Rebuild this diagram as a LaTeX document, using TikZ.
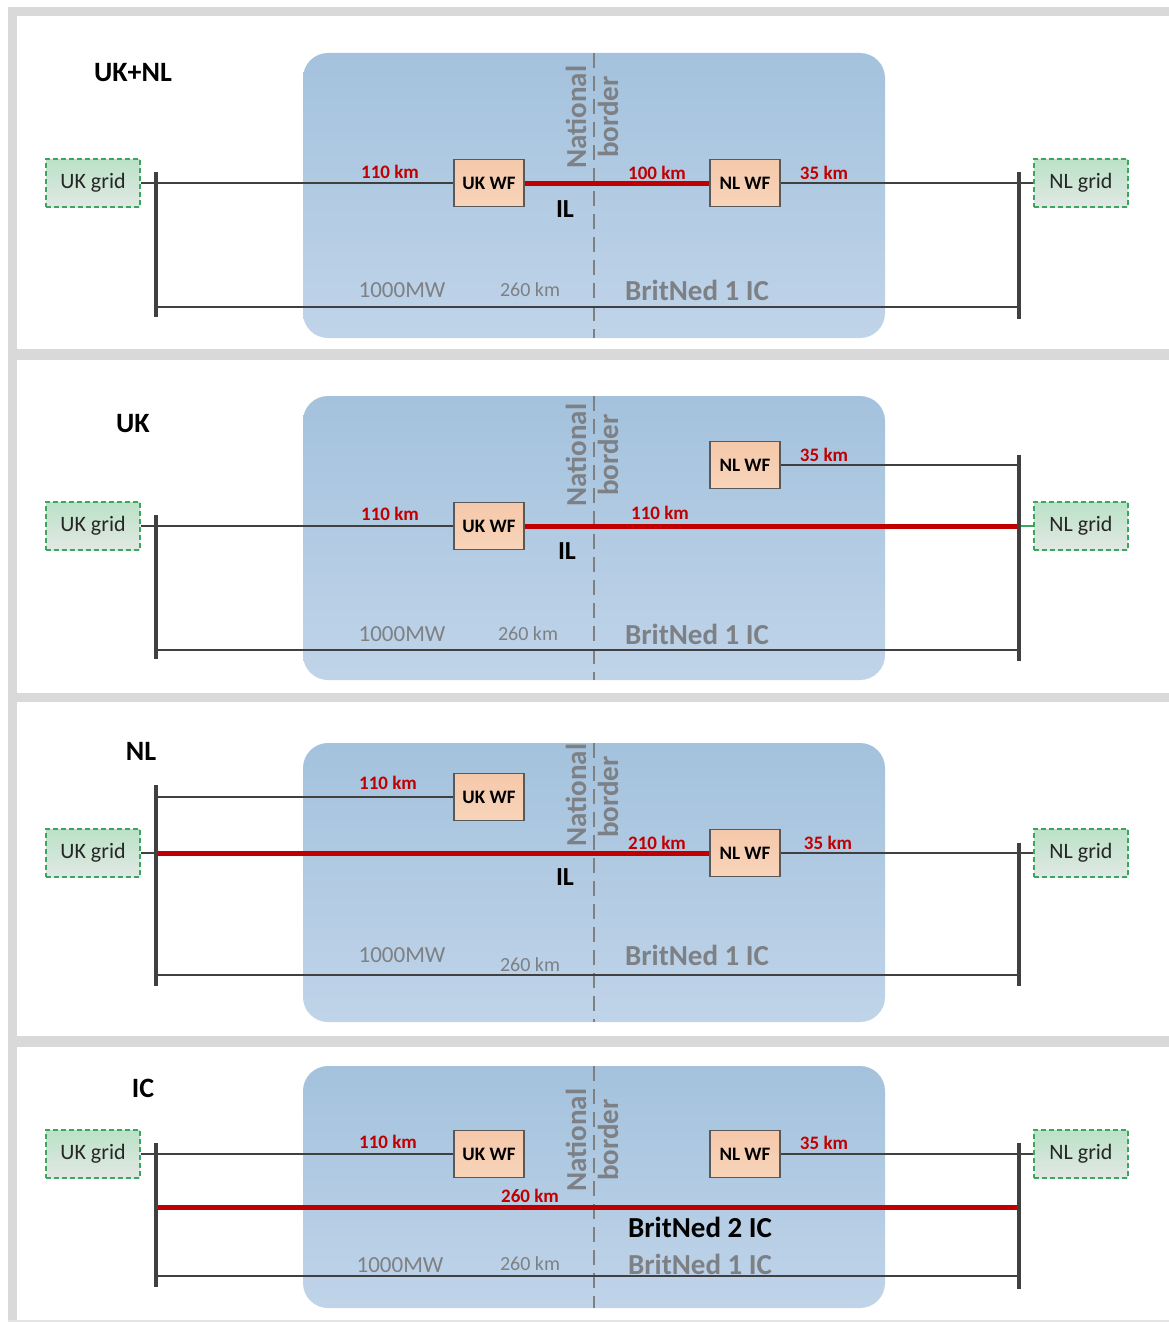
\documentclass[tikz,border=0pt]{standalone}
\usepackage{fontspec}
\setmainfont{Carlito}
\usetikzlibrary{calc}
\definecolor{framegray}{RGB}{217,217,217}
\definecolor{bluetop}{RGB}{164,194,221}
\definecolor{bluebot}{RGB}{192,212,233}
\definecolor{linegray}{RGB}{64,64,64}
\definecolor{ilred}{RGB}{192,0,0}
\definecolor{bordergray}{RGB}{128,128,128}
\definecolor{txtgray}{RGB}{125,128,132}
\definecolor{wfborder}{RGB}{89,89,89}
\definecolor{wftop}{RGB}{245,200,170}
\definecolor{wfbot}{RGB}{248,212,186}
\definecolor{gridtop}{RGB}{186,226,198}
\definecolor{gridbot}{RGB}{226,232,228}
\definecolor{griddash}{RGB}{60,165,95}
\tikzset{
  gridbox/.style={draw=griddash, line width=1.3pt, dash pattern=on 5pt off 3pt,
    top color=gridtop, bottom color=gridbot, minimum width=94pt, minimum height=48pt,
    inner sep=0pt, font=\fontsize{22}{24}\selectfont, text=black!85},
  wfbox/.style={draw=wfborder, line width=1.4pt, top color=wftop, bottom color=wfbot,
    minimum width=70pt, minimum height=47pt, inner sep=0pt,
    font=\bfseries\fontsize{19}{21}\selectfont},
  bus/.style={draw=linegray, line width=3.5pt},
  cable/.style={draw=linegray, line width=2.4pt},
  ilcable/.style={draw=ilred, line width=5pt},
  greenlink/.style={draw=griddash, line width=2pt},
  kmlabel/.style={text=ilred, font=\bfseries\fontsize{19}{21}\selectfont},
  titlelabel/.style={font=\bfseries\fontsize{28}{30}\selectfont},
  illabel/.style={font=\bfseries\fontsize{26}{28}\selectfont},
  mwlabel/.style={text=txtgray, font=\fontsize{23}{25}\selectfont},
  lenlabel/.style={text=txtgray, font=\fontsize{20}{22}\selectfont},
  iclabel/.style={text=txtgray, font=\bfseries\fontsize{29}{31}\selectfont},
  ictwolabel/.style={text=black, font=\bfseries\fontsize{29}{31}\selectfont},
  natlabel/.style={text=txtgray, rotate=90, font=\bfseries\fontsize{29}{31}\selectfont},
  nborder/.style={draw=bordergray, line width=2.2pt, dash pattern=on 15pt off 8pt},
  zone/.style={top color=bluetop, bottom color=bluebot, rounded corners=25pt},
}
\begin{document}
\begin{tikzpicture}[x=1pt,y=-1pt]
\useasboundingbox (0,0) rectangle (1169,1322);
\fill[white] (0,0) rectangle (1169,1322);
% frame
\fill[framegray] (8,7) rectangle (1169,16);
\fill[framegray] (8,7) rectangle (17,1322);
\fill[framegray] (8,349) rectangle (1169,360);
\fill[framegray] (8,693) rectangle (1169,702);
\fill[framegray] (8,1036) rectangle (1169,1047);
\fill[framegray!70] (8,1320) rectangle (1169,1322);

% ================= Panel 1: UK+NL =================
\shade[zone] (303,53) rectangle (885,338);
\coordinate (nb1t) at (594,53); \coordinate (nb1b) at (594,338);
\draw[nborder] (nb1t) -- (nb1b);
\node[natlabel] (nat1) at (576,117) {National};
\node[natlabel] (bor1) at (608,117) {border};
\node[titlelabel] (t1) at (133,73) {UK+NL};
\node[gridbox] (ukg1) at (93,183) {UK grid};
\node[gridbox] (nlg1) at (1081,183) {NL grid};
\node[wfbox] (ukwf1) at (489,183) {UK WF};
\node[wfbox] (nlwf1) at (745,183) {NL WF};
\coordinate (lb1t) at (156,172); \coordinate (lb1b) at (156,317);
\coordinate (rb1t) at (1019,172); \coordinate (rb1b) at (1019,319);
\coordinate (bl1a) at (156,307); \coordinate (bl1b) at (1019,307);
\draw[cable] (ukg1.east) -- (ukg1.east -| lb1t);
\draw[cable] (ukg1.east -| lb1t) -- (ukwf1.west);
\draw[ilcable] (ukwf1.east) -- (nlwf1.west);
\draw[cable] (nlwf1.east) -- (nlwf1.east -| rb1t);
\draw[cable] (nlg1.west) -- (nlg1.west -| rb1t);
\draw[cable] (bl1a) -- (bl1b);
\draw[bus] (lb1t) -- (lb1b);
\draw[bus] (rb1t) -- (rb1b);
\node[kmlabel] (k1a) at (390,172) {110 km};
\node[kmlabel] (k1b) at (657,173) {100 km};
\node[kmlabel] (k1c) at (824,173) {35 km};
\node[illabel] (il1) at (565,209) {IL};
\node[mwlabel] (mw1) at (402,290) {1000MW};
\node[lenlabel] (len1) at (530,290) {260 km};
\node[iclabel] (ic1) at (697,290) {BritNed 1 IC};

% ================= Panel 2: UK =================
\shade[zone] (303,396) rectangle (885,680);
\coordinate (nb2t) at (594,396); \coordinate (nb2b) at (594,680);
\draw[nborder] (nb2t) -- (nb2b);
\node[natlabel] (nat2) at (576,455) {National};
\node[natlabel] (bor2) at (608,455) {border};
\node[titlelabel] (t2) at (133,424) {UK};
\node[gridbox] (ukg2) at (93,526) {UK grid};
\node[gridbox] (nlg2) at (1081,526) {NL grid};
\node[wfbox] (ukwf2) at (489,526) {UK WF};
\node[wfbox] (nlwf2) at (745,465) {NL WF};
\coordinate (lb2t) at (156,515); \coordinate (lb2b) at (156,659);
\coordinate (rb2t) at (1019,455); \coordinate (rb2b) at (1019,661);
\coordinate (bl2a) at (156,650); \coordinate (bl2b) at (1019,650);
\draw[cable] (ukg2.east) -- (ukg2.east -| lb2t);
\draw[cable] (ukg2.east -| lb2t) -- (ukwf2.west);
\draw[ilcable] (ukwf2.east) -- (ukwf2.east -| rb2t);
\draw[cable] (nlwf2.east) -- (nlwf2.east -| rb2t);
\draw[greenlink] (nlg2.west) -- (nlg2.west -| rb2t);
\draw[cable] (bl2a) -- (bl2b);
\draw[bus] (lb2t) -- (lb2b);
\draw[bus] (rb2t) -- (rb2b);
\node[kmlabel] (k2a) at (390,514) {110 km};
\node[kmlabel] (k2b) at (660,513) {110 km};
\node[kmlabel] (k2c) at (824,455) {35 km};
\node[illabel] (il2) at (567,551) {IL};
\node[mwlabel] (mw2) at (402,634) {1000MW};
\node[lenlabel] (len2) at (528,634) {260 km};
\node[iclabel] (ic2) at (697,634) {BritNed 1 IC};

% ================= Panel 3: NL =================
\shade[zone] (303,743) rectangle (885,1022);
\coordinate (nb3t) at (594,743); \coordinate (nb3b) at (594,1022);
\draw[nborder] (nb3t) -- (nb3b);
\node[natlabel] (nat3) at (576,795) {National};
\node[natlabel] (bor3) at (608,797) {border};
\node[titlelabel] (t3) at (141,751) {NL};
\node[gridbox] (ukg3) at (93,853) {UK grid};
\node[gridbox] (nlg3) at (1081,853) {NL grid};
\node[wfbox] (ukwf3) at (489,797) {UK WF};
\node[wfbox] (nlwf3) at (745,853) {NL WF};
\coordinate (lb3t) at (156,785); \coordinate (lb3b) at (156,986);
\coordinate (rb3t) at (1019,843); \coordinate (rb3b) at (1019,986);
\coordinate (bl3a) at (156,975); \coordinate (bl3b) at (1019,975);
\draw[cable] (ukg3.east) -- (ukg3.east -| lb3t);
\draw[cable] (ukwf3.west -| lb3t) -- (ukwf3.west);
\draw[ilcable] (nlwf3.west -| lb3t) -- (nlwf3.west);
\draw[cable] (nlwf3.east) -- (nlwf3.east -| rb3t);
\draw[cable] (nlg3.west) -- (nlg3.west -| rb3t);
\draw[cable] (bl3a) -- (bl3b);
\draw[bus] (lb3t) -- (lb3b);
\draw[bus] (rb3t) -- (rb3b);
\node[kmlabel] (k3a) at (388,783) {110 km};
\node[kmlabel] (k3b) at (657,843) {210 km};
\node[kmlabel] (k3c) at (828,843) {35 km};
\node[illabel] (il3) at (565,877) {IL};
\node[mwlabel] (mw3) at (402,955) {1000MW};
\node[lenlabel] (len3) at (530,965) {260 km};
\node[iclabel] (ic3) at (697,955) {BritNed 1 IC};

% ================= Panel 4: IC =================
\shade[zone] (303,1066) rectangle (885,1308);
\coordinate (nb4t) at (594,1066); \coordinate (nb4b) at (594,1308);
\draw[nborder] (nb4t) -- (nb4b);
\node[natlabel] (nat4) at (576,1140) {National};
\node[natlabel] (bor4) at (608,1140) {border};
\node[titlelabel] (t4) at (143,1088) {IC};
\node[gridbox] (ukg4) at (93,1154) {UK grid};
\node[gridbox] (nlg4) at (1081,1154) {NL grid};
\node[wfbox] (ukwf4) at (489,1154) {UK WF};
\node[wfbox] (nlwf4) at (745,1154) {NL WF};
\coordinate (lb4t) at (156,1143); \coordinate (lb4b) at (156,1287);
\coordinate (rb4t) at (1019,1143); \coordinate (rb4b) at (1019,1289);
\coordinate (bl4a) at (156,1276); \coordinate (bl4b) at (1019,1276);
\coordinate (ic4a) at (156,1207); \coordinate (ic4b) at (1019,1207);
\draw[cable] (ukg4.east) -- (ukg4.east -| lb4t);
\draw[cable] (ukg4.east -| lb4t) -- (ukwf4.west);
\draw[cable] (nlwf4.east) -- (nlwf4.east -| rb4t);
\draw[cable] (nlg4.west) -- (nlg4.west -| rb4t);
\draw[ilcable] (ic4a) -- (ic4b);
\draw[cable] (bl4a) -- (bl4b);
\draw[bus] (lb4t) -- (lb4b);
\draw[bus] (rb4t) -- (rb4b);
\node[kmlabel] (k4a) at (388,1142) {110 km};
\node[kmlabel] (k4b) at (530,1196) {260 km};
\node[kmlabel] (k4c) at (824,1143) {35 km};
\node[ictwolabel] (ic4two) at (700,1227) {BritNed 2 IC};
\node[mwlabel] (mw4) at (400,1265) {1000MW};
\node[lenlabel] (len4) at (530,1264) {260 km};
\node[iclabel] (ic4) at (700,1264) {BritNed 1 IC};
\end{tikzpicture}
\end{document}
